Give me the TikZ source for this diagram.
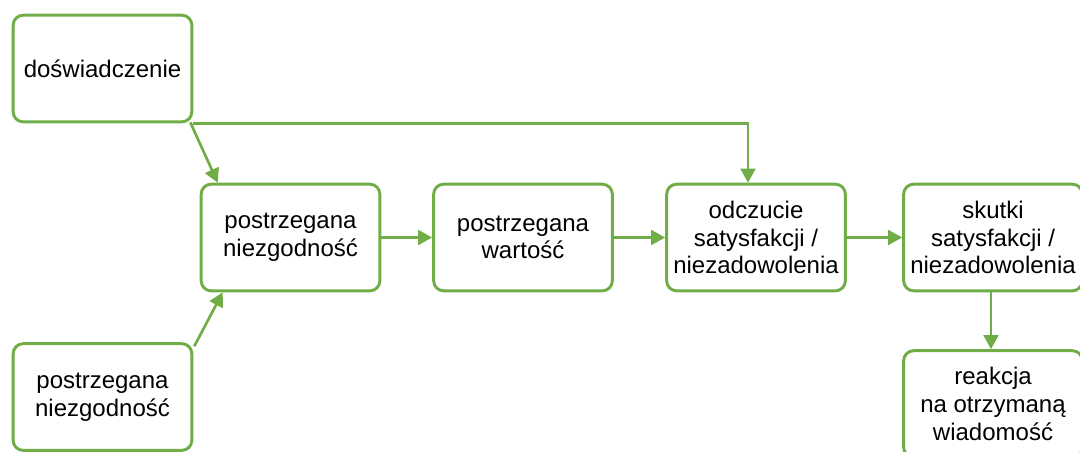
\documentclass[tikz,border=0pt]{standalone}
\usepackage{fontspec}
\setmainfont{Liberation Sans}
\usetikzlibrary{arrows.meta,calc}
\definecolor{boxgreen}{HTML}{70AD47}
\begin{document}
\begin{tikzpicture}[x=0.75pt,y=-0.75pt,
  stepbox/.style={draw=boxgreen, line width=2.2pt, rounded corners=7.5pt,
    minimum width=134pt, minimum height=80pt, align=center, inner sep=2pt,
    font=\fontsize{18}{20.7}\selectfont, fill=white},
  flow/.style={draw=boxgreen, line width=2pt,
    -{Triangle[length=10.5pt,width=11pt]}}]
\useasboundingbox (0,0) rectangle (1080,451);
\clip (0,0) rectangle (1080,451);

% boxes
\node[stepbox] (A) at (102.5,68.5) {do\'swiadczenie};
\node[stepbox] (B) at (102.5,397) {postrzegana\\niezgodno\'s\'c};
\node[stepbox] (C) at (290.5,237.5) {postrzegana\\niezgodno\'s\'c};
\node[stepbox] (D) at (523,237.5) {postrzegana\\warto\'s\'c};
\node[stepbox] (E) at (756,237.5) {odczucie\\satysfakcji /\\niezadowolenia};
\node[stepbox] (F) at (993,237.5) {skutki\\satysfakcji /\\niezadowolenia};
\node[stepbox] (G) at (993,404) {reakcja\\na otrzyman\k{a}\\wiadomo\'s\'c};

% connectors
\draw[flow] ($(A.south east)+(-3,-1)$) -- ($(C.north west)+(18,0)$);
\draw[flow] (A.south east) -| ($(E.north)+(-8,0)$);
\draw[flow] ($(B.north east)+(1,4)$) -- ($(C.south west)+(23,0)$);
\draw[flow] (C.east) -- (D.west);
\draw[flow] (D.east) -- (E.west);
\draw[flow] (E.east) -- (F.west);
\draw[flow] ($(F.south)+(-2,0)$) -- ($(G.north)+(-2,0)$);
\end{tikzpicture}
\end{document}
